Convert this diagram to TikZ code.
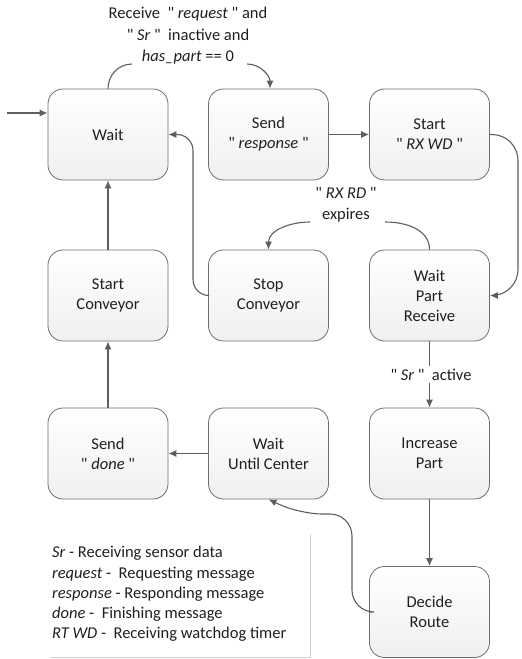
\documentclass[tikz,border=0pt]{standalone}
\usepackage{fontspec}
\setmainfont{Carlito}[Ligatures=TeXOff]
\usetikzlibrary{arrows.meta}
\definecolor{linec}{HTML}{5E5E5E}
\definecolor{boxc}{HTML}{6E6E6E}
\tikzset{
  state/.style={draw=boxc, line width=0.8bp, rounded corners=15bp,
    minimum width=120bp, minimum height=91bp, top color=white, bottom color=black!6,
    align=center, inner sep=2bp, font=\fontsize{16.5bp}{20bp}\selectfont, text=black!88},
  conn/.style={draw=linec, line width=1.1bp, -{Latex[length=8bp,width=7bp]}},
  plain/.style={draw=linec, line width=1.1bp},
  lbl/.style={align=center, font=\fontsize{16.5bp}{21.5bp}\selectfont, text=black!88, inner sep=1bp},
}
\begin{document}
\begin{tikzpicture}[x=1bp,y=-1bp]
\useasboundingbox (0,0) rectangle (522,659);
% states
\node[state] (wait) at (108,134.5) {Wait};
\node[state] (sendresp) at (268.5,134.5) {Send\\" \textit{response} "};
\node[state] (startrx) at (429.5,134.5) {Start\\" \textit{RX WD} "};
\node[state] (startconv) at (108,295.5) {Start\\Conveyor};
\node[state] (stopconv) at (268.5,295.5) {Stop\\Conveyor};
\node[state] (waitpart) at (429.5,295.5) {Wait\\Part\\Receive};
\node[state] (senddone) at (108,453.5) {Send\\" \textit{done} "};
\node[state] (waitcenter) at (268.5,453.5) {Wait\\Until Center};
\node[state] (incpart) at (429.5,453.5) {Increase\\Part};
\node[state] (decide) at (429.5,612) {Decide\\Route};
% labels
\node[lbl] (toplbl) at (188,36) {Receive \ " \textit{request} " and\\" \textit{Sr} " \ inactive and\\\textit{has\_part} == 0};
\node[lbl] (rxlbl) at (346,205) {" \textit{RX RD} "\\expires};
% entry
\coordinate (entry) at (7,113);
\draw[conn] (entry) -- (entry -| wait.west);
% wait -> send response
\coordinate (ta) at (132,64);
\coordinate (tb) at (247,64);
\draw[plain] (wait.north) to[out=90,in=180] (ta);
\draw[conn] (tb) to[out=0,in=90] ([xshift=1.5bp]sendresp.north);
% send response -> start rx
\draw[conn] (sendresp) -- (startrx);
% start rx -> wait part
\draw[conn, rounded corners=26bp] (startrx.east) -- (518,134.5) -- (518,295.5) -- (waitpart.east);
% wait part -> stop conveyor
\coordinate (ra) at (385,222);
\coordinate (rb) at (310,222);
\draw[plain] (waitpart.north) to[out=90,in=0] (ra);
\draw[conn] (rb) to[out=180,in=90] (stopconv.north);
% stop conveyor -> wait
\draw[conn, rounded corners=16bp] (stopconv.west) -- (193,295.5) -- (193,134.5) -- (wait.east);
% wait part -> increase part
\draw[conn] (waitpart.south) -- node[fill=white, lbl, inner sep=3bp, xshift=1.5bp] (srlbl) {" \textit{Sr} " \ active} (incpart.north);
% increase -> decide
\draw[conn] (incpart) -- (decide);
% decide -> wait center
\draw[conn, rounded corners=22bp] (decide.west) -- (352,612) -- (352,514) -- (300,514) -- (waitcenter.south);
% wait center -> send done
\draw[conn] (waitcenter) -- (senddone);
% send done -> start conveyor
\draw[conn] (senddone) -- (startconv);
% start conveyor -> wait
\draw[conn] (startconv) -- (wait);
% legend
\draw[black!18, line width=1bp] (50,657) -- (310,657) -- (310,534);
\node[anchor=west, align=left, font=\fontsize{16.5bp}{20.3bp}\selectfont, text=black!88, inner sep=0pt] (legend) at (52,594)
 {\textit{Sr} - Receiving sensor data\\
  \textit{request} - \ Requesting message\\
  \textit{response} - Responding message\\
  \textit{done} - \ Finishing message\\
  \textit{RT WD} - \ Receiving watchdog timer};
\end{tikzpicture}
\end{document}
